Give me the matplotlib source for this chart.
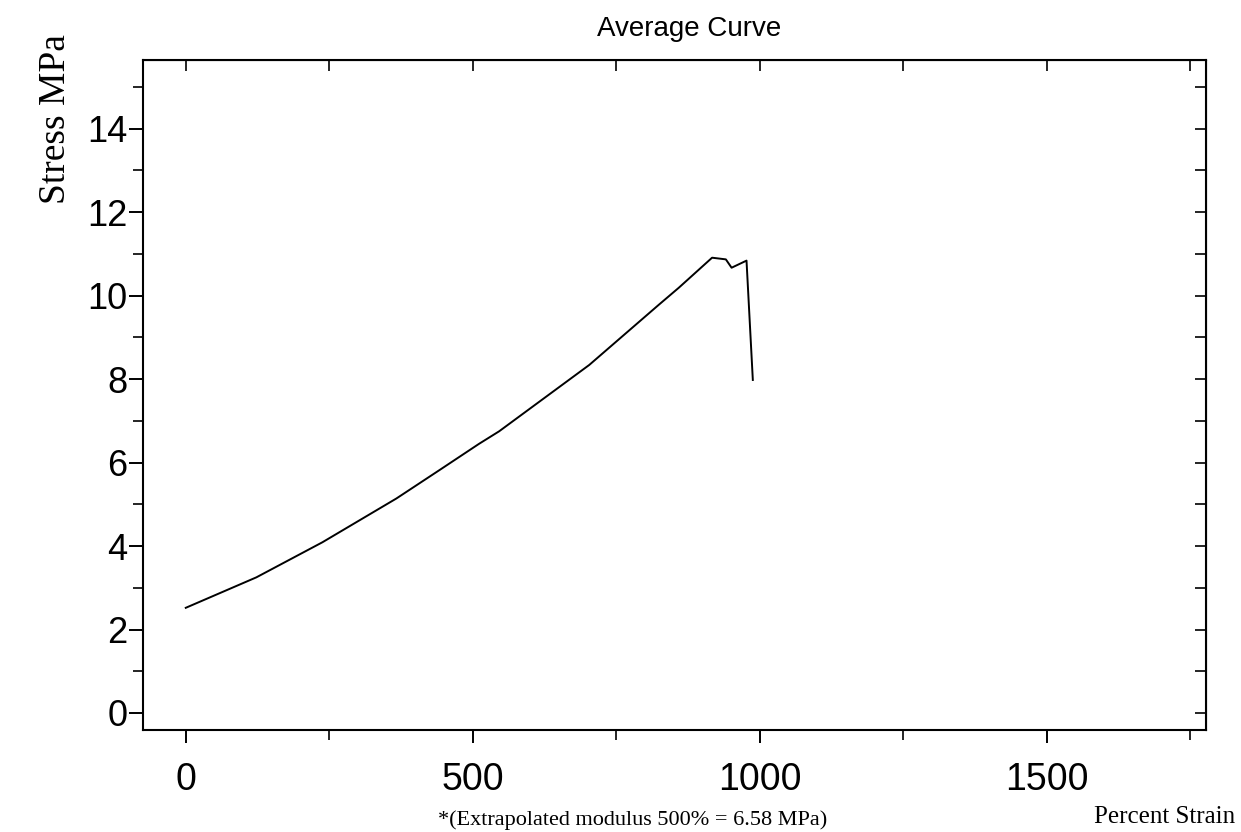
import matplotlib.pyplot as plt
from matplotlib.ticker import MultipleLocator

deformacion = [0, 123, 238, 367, 442, 511, 546, 703, 824, 859, 917, 941, 951, 977, 988]
esfuerzo = [2.52, 3.25, 4.09, 5.14, 5.82, 6.45, 6.75, 8.34, 9.78, 10.19, 10.91, 10.87, 10.67, 10.84, 7.98]

ticks_x = [0, 500, 1000, 1500]
ticks_y = [0, 2, 4, 6, 8, 10, 12, 14]

fig = plt.figure(figsize=(12.41, 8.32), dpi=100)
ax = fig.add_axes([0.115, 0.123, 0.857, 0.805])

ax.plot(deformacion, esfuerzo, color='black', linewidth=1.4)

ax.set_xlim(-75, 1778)
ax.set_ylim(-0.4, 15.65)

ax.set_xticks(ticks_x)
ax.set_yticks(ticks_y)
ax.xaxis.set_minor_locator(MultipleLocator(250))
ax.yaxis.set_minor_locator(MultipleLocator(1))
ax.tick_params(axis='x', which='major', direction='out', length=9, width=1.4,
               labelsize=27, pad=14)
ax.tick_params(axis='x', which='minor', direction='out', length=7, width=1.2)
ax.tick_params(axis='y', which='major', direction='out', length=10, width=1.4,
               labelsize=26, pad=1)
ax.tick_params(axis='y', which='minor', direction='out', length=7, width=1.2)
for lab in ax.get_xticklabels() + ax.get_yticklabels():
    lab.set_family('Liberation Sans')

for s in ax.spines.values():
    s.set_linewidth(1.5)

arriba = ax.secondary_xaxis('top')
arriba.set_xticks([0, 250, 500, 750, 1000, 1250, 1500, 1750])
arriba.tick_params(direction='in', length=8, width=1.2, labeltop=False)
derecha = ax.secondary_yaxis('right')
derecha.set_yticks(list(range(0, 16)))
derecha.tick_params(direction='in', length=8, width=1.2, labelright=False)

fig.text(0.555, 0.965, 'Average Curve', ha='center', va='center',
         fontsize=20, family='Liberation Sans')
fig.text(0.045, 0.857, 'Stress MPa', rotation=90, ha='center', va='center',
         fontsize=27, family='Liberation Serif')
fig.text(0.995, 0.018, 'Percent Strain', ha='right', va='center',
         fontsize=18, family='Liberation Serif')
fig.text(0.51, 0.003, '*(Extrapolated modulus 500% = 6.58 MPa)', ha='center',
         va='bottom', fontsize=16, family='Liberation Serif')

fig.savefig('out.png', dpi=100)
